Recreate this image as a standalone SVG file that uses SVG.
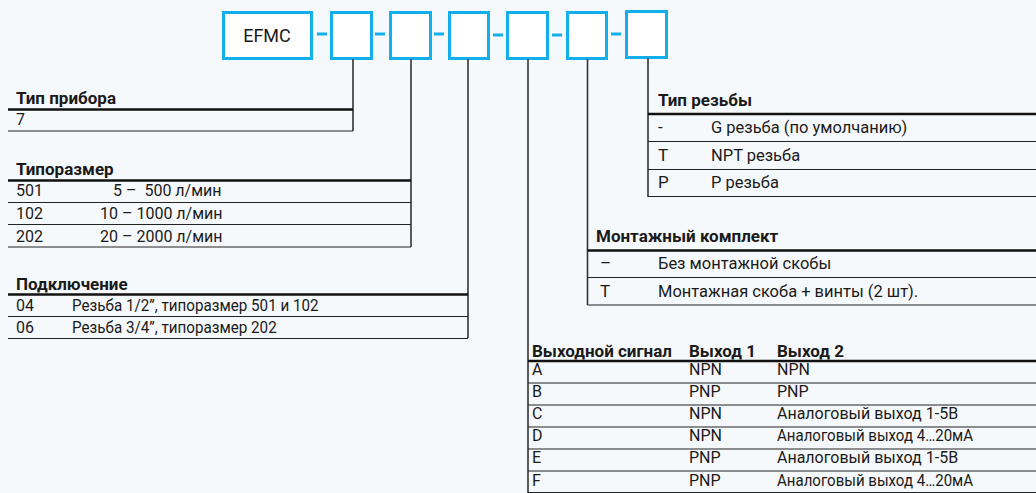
<svg xmlns="http://www.w3.org/2000/svg" width="1036" height="493" viewBox="0 0 1036 493">
<style>
.bg{fill:#f6f9fb}
.box{fill:#ffffff;stroke:#12afec;stroke-width:3}
.dash{stroke:#12afec;stroke-width:3}
.conn{stroke:#333333;stroke-width:1.6;fill:none}
.thick{stroke:#111111;stroke-width:2.6}
.thin{stroke:#222222;stroke-width:1.2}
text{font-family:Roboto,"Liberation Sans",sans-serif;font-size:16px;fill:#1a1a1a}
.h{font-weight:bold;font-size:17px}
.r{font-size:17px}
.code{font-size:18px}
</style>
<rect class="bg" x="0" y="0" width="1036" height="493"/>

<g id="code-boxes">
  <g id="box-efmc"><rect class="box" x="223.5" y="12.5" width="88" height="46"/><text class="code" x="267" y="42" text-anchor="middle">EFMC</text></g>
  <g id="box-1"><rect class="box" x="331.5" y="12.5" width="40" height="46"/></g>
  <g id="box-2"><rect class="box" x="390.5" y="12.5" width="40" height="46"/></g>
  <g id="box-3"><rect class="box" x="449.5" y="12.5" width="39" height="46"/></g>
  <g id="box-4"><rect class="box" x="507.5" y="12.5" width="40" height="46"/></g>
  <g id="box-5"><rect class="box" x="567.5" y="12.5" width="39" height="46"/></g>
  <g id="box-6"><rect class="box" x="626.5" y="11.5" width="40" height="46"/></g>
  <g id="dashes">
    <line class="dash" x1="317" y1="34" x2="327" y2="34"/>
    <line class="dash" x1="375" y1="34" x2="385" y2="34"/>
    <line class="dash" x1="434" y1="34" x2="444" y2="34"/>
    <line class="dash" x1="493" y1="35" x2="503" y2="35"/>
    <line class="dash" x1="552" y1="35" x2="562" y2="35"/>
    <line class="dash" x1="611" y1="34" x2="621" y2="34"/>
  </g>
</g>

<g id="connectors">
  <line class="conn" x1="353" y1="59" x2="353" y2="131"/>
  <line class="conn" x1="411" y1="59" x2="411" y2="247"/>
  <line class="conn" x1="468" y1="59" x2="468" y2="338"/>
  <line class="conn" x1="528" y1="59" x2="528" y2="493"/>
  <line class="conn" x1="587.5" y1="59" x2="587.5" y2="305"/>
  <line class="conn" x1="648" y1="58" x2="648" y2="197"/>
</g>

<g id="table-tip-pribora">
  <text class="h" x="16" y="104">Тип прибора</text>
  <line class="thick" x1="8" y1="109.5" x2="353" y2="109.5"/>
  <text x="16" y="125">7</text>
  <line class="thin" x1="8" y1="131" x2="353" y2="131"/>
</g>

<g id="table-tiporazmer">
  <text class="h" x="16" y="175">Типоразмер</text>
  <line class="thick" x1="8" y1="180.5" x2="411" y2="180.5"/>
  <text x="16" y="196">501</text><text x="113" y="196" xml:space="preserve">5 –  500 л/мин</text>
  <line class="thin" x1="8" y1="202.5" x2="411" y2="202.5"/>
  <text x="16" y="219">102</text><text x="100" y="219">10 – 1000 л/мин</text>
  <line class="thin" x1="8" y1="224.5" x2="411" y2="224.5"/>
  <text x="16" y="242">202</text><text x="100" y="242">20 – 2000 л/мин</text>
  <line class="thin" x1="8" y1="247" x2="411" y2="247"/>
</g>

<g id="table-podklyuchenie">
  <text class="h" x="16" y="290">Подключение</text>
  <line class="thick" x1="8" y1="294.5" x2="468" y2="294.5"/>
  <text x="16" y="311">04</text><text x="72" y="311" transform="matrix(0.95 0 0 1 3.6 0)">Резьба 1/2”, типоразмер 501 и 102</text>
  <line class="thin" x1="8" y1="316.5" x2="468" y2="316.5"/>
  <text x="16" y="333">06</text><text x="72" y="333" transform="matrix(0.95 0 0 1 3.6 0)">Резьба 3/4”, типоразмер 202</text>
  <line class="thin" x1="8" y1="338.5" x2="468" y2="338.5"/>
</g>

<g id="table-tip-rezby">
  <text class="h" x="658" y="106">Тип резьбы</text>
  <line class="thick" x1="648" y1="114" x2="1036" y2="114"/>
  <text class="r" x="658" y="133">-</text><text class="r" x="711" y="133" transform="matrix(0.97 0 0 1 21.33 0)">G резьба (по умолчанию)</text>
  <line class="thin" x1="648" y1="141.5" x2="1036" y2="141.5"/>
  <text class="r" x="658" y="161">T</text><text class="r" x="711" y="161" transform="matrix(0.97 0 0 1 21.33 0)">NPT резьба</text>
  <line class="thin" x1="648" y1="169.5" x2="1036" y2="169.5"/>
  <text class="r" x="658" y="188">P</text><text class="r" x="711" y="188" transform="matrix(0.97 0 0 1 21.33 0)">P резьба</text>
  <line class="thin" x1="648" y1="196.5" x2="1036" y2="196.5"/>
</g>

<g id="table-montazh">
  <text class="h" x="596" y="242">Монтажный комплект</text>
  <line class="thick" x1="587.5" y1="250.5" x2="1036" y2="250.5"/>
  <text class="r" x="600" y="269">–</text><text class="r" x="658" y="269" transform="matrix(0.97 0 0 1 19.74 0)">Без монтажной скобы</text>
  <line class="thin" x1="587.5" y1="277.5" x2="1036" y2="277.5"/>
  <text class="r" x="600" y="297">T</text><text class="r" x="658" y="297" transform="matrix(0.97 0 0 1 19.74 0)">Монтажная скоба + винты (2 шт).</text>
  <line class="thin" x1="587.5" y1="305" x2="1036" y2="305"/>
</g>

<g id="table-vyhod">
  <text class="h" x="532" y="357">Выходной сигнал</text>
  <text class="h" x="689" y="357">Выход 1</text>
  <text class="h" x="777" y="357">Выход 2</text>
  <line class="thick" x1="528" y1="361" x2="1036" y2="361"/>
  <text x="532" y="375">A</text><text x="689" y="375">NPN</text><text x="777" y="375">NPN</text>
  <line class="thin" x1="528" y1="383" x2="1036" y2="383"/>
  <text x="532" y="397">B</text><text x="689" y="397">PNP</text><text x="777" y="397">PNP</text>
  <line class="thin" x1="528" y1="405" x2="1036" y2="405"/>
  <text x="532" y="419">C</text><text x="689" y="419">NPN</text><text x="777" y="419">Аналоговый выход 1-5В</text>
  <line class="thin" x1="528" y1="427" x2="1036" y2="427"/>
  <text x="532" y="441">D</text><text x="689" y="441">NPN</text><text x="777" y="441" transform="matrix(0.94 0 0 1 46.62 0)">Аналоговый выход 4…20мА</text>
  <line class="thin" x1="528" y1="449" x2="1036" y2="449"/>
  <text x="532" y="463">E</text><text x="689" y="463">PNP</text><text x="777" y="463">Аналоговый выход 1-5В</text>
  <line class="thin" x1="528" y1="471" x2="1036" y2="471"/>
  <text x="532" y="486">F</text><text x="689" y="486">PNP</text><text x="777" y="486" transform="matrix(0.94 0 0 1 46.62 0)">Аналоговый выход 4…20мА</text>
  <line class="thin" x1="528" y1="492.5" x2="1036" y2="492.5"/>
</g>
</svg>
